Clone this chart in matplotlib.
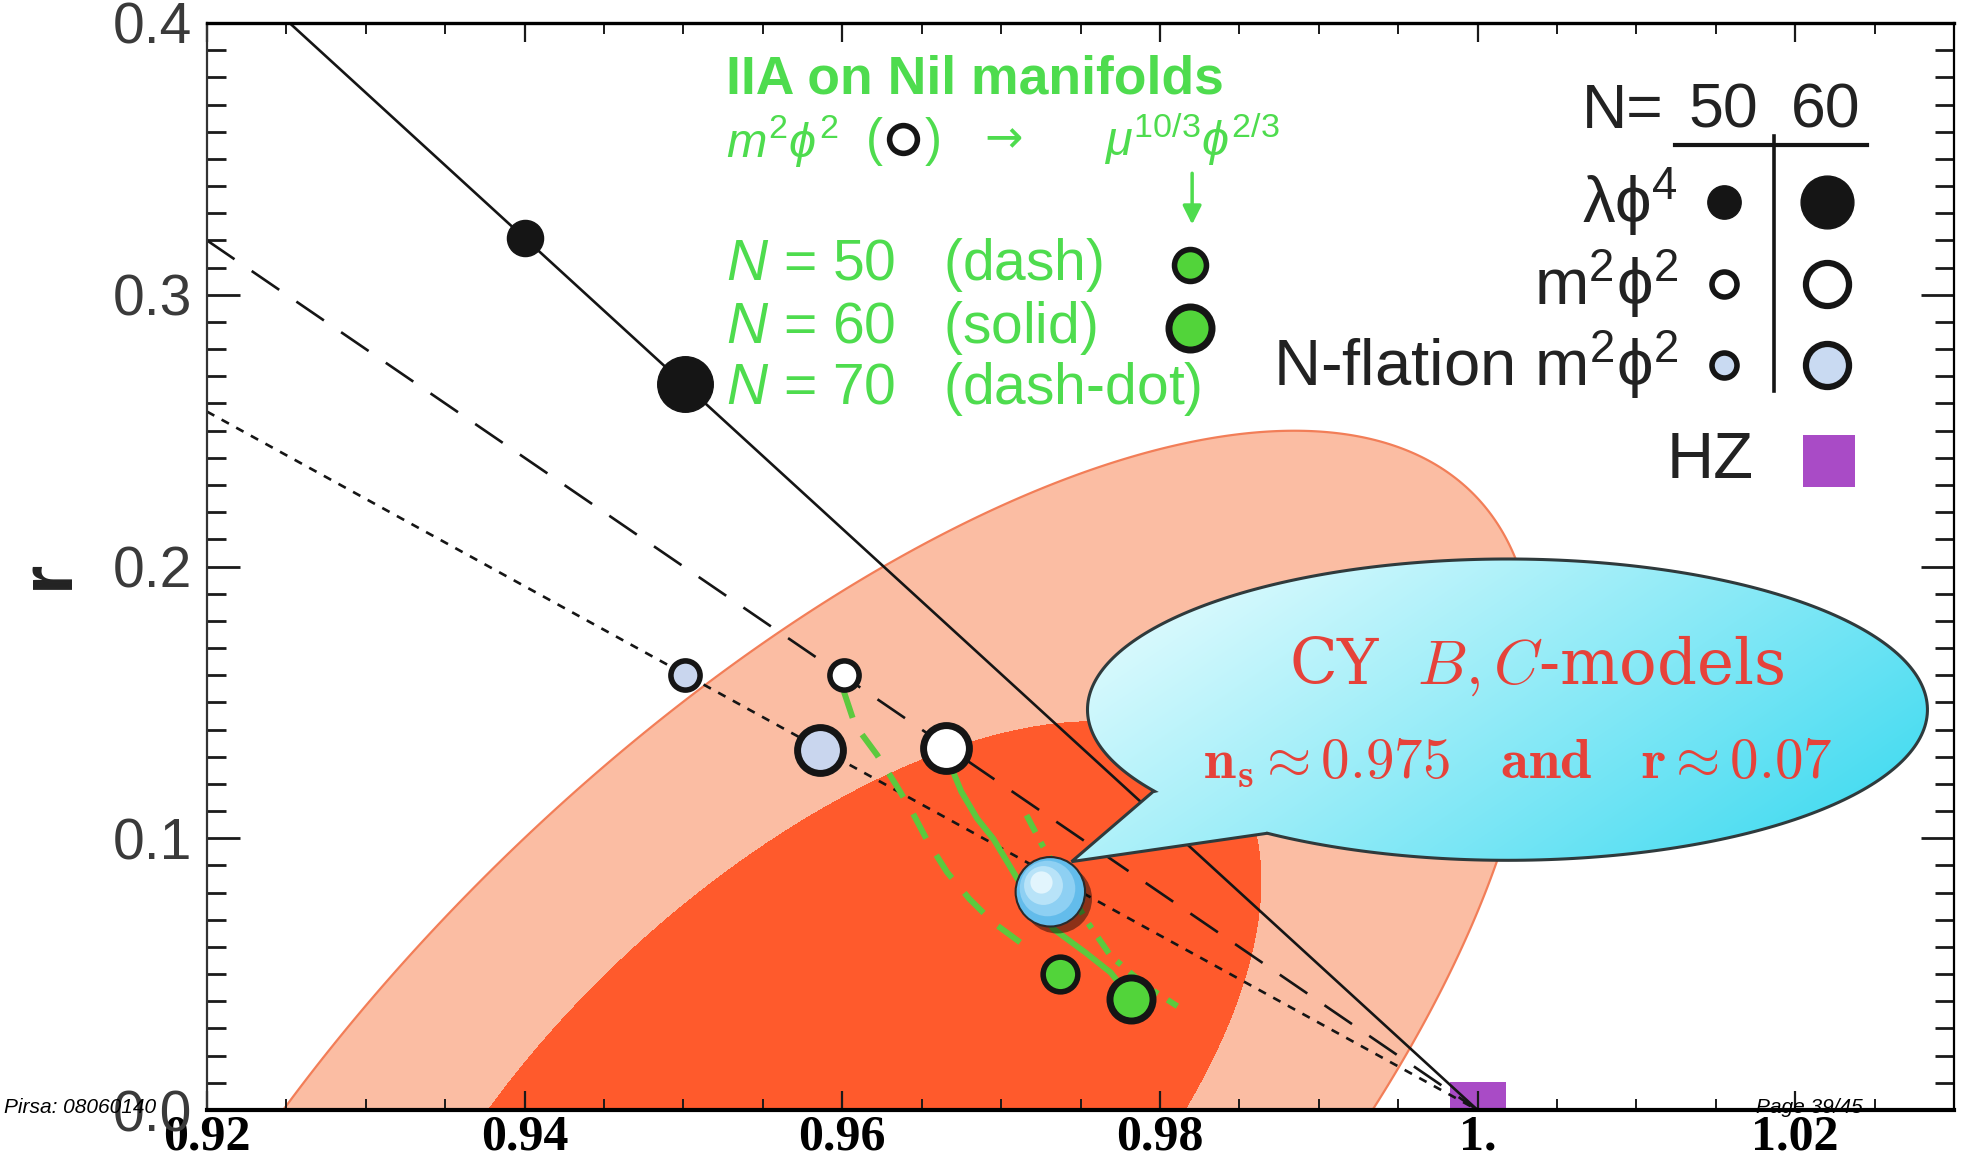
import numpy as np
import matplotlib
matplotlib.use("Agg")
import matplotlib.pyplot as plt
from matplotlib.path import Path
from matplotlib.patches import PathPatch
from matplotlib.ticker import MultipleLocator, FixedLocator, FixedFormatter
import matplotlib.patheffects as pe
import matplotlib.transforms as mtransforms
from matplotlib import font_manager as fm

# ------------------------------------------------------------------ data
xticks = [0.92, 0.94, 0.96, 0.98, 1.00, 1.02]
xtick_labels = ["0.92", "0.94", "0.96", "0.98", "1.", "1.02"]
yticks = [0.0, 0.1, 0.2, 0.3, 0.4]
ytick_labels = ["0.0", "0.1", "0.2", "0.3", "0.4"]

# model lines  (ns, r)
lam_line_ns = [0.9252, 1.0]
lam_line_r = [0.400, 0.0]
m2_line_ns = [0.920, 1.0]
m2_line_r = [0.320, 0.0]
nfl_line_ns = [0.920, 1.0]
nfl_line_r = [0.257, 0.0]

# model points N=50, N=60
lam_ns = [0.9400, 0.9501]
lam_r = [0.321, 0.267]
m2_ns = [0.9601, 0.9665]
m2_r = [0.160, 0.1333]
nfl_ns = [0.9501, 0.9586]
nfl_r = [0.160, 0.1325]
nil_ns = [0.9737, 0.9782]
nil_r = [0.050, 0.041]
cy_ns = [0.9731]
cy_r = [0.0803]
hz_ns = [1.0]
hz_r = [0.0]

# IIA on Nil manifolds tracks
nil50_ns = [0.9601, 0.9608, 0.9622, 0.9634, 0.9644, 0.9654, 0.9666, 0.9680, 0.9695, 0.9712]
nil50_r = [0.154, 0.1417, 0.1306, 0.1195, 0.1097, 0.0986, 0.0875, 0.0777, 0.0690, 0.0617]
nil60_ns = [0.9665, 0.9668, 0.9675, 0.9685, 0.9695, 0.9704, 0.9714, 0.9733, 0.9753, 0.9769, 0.9782]
nil60_r = [0.1333, 0.127, 0.1171, 0.1072, 0.0999, 0.0912, 0.0814, 0.0666, 0.0580, 0.0506, 0.041]
nil70_ns = [0.9716, 0.9726, 0.9740, 0.9753, 0.9769, 0.9791, 0.9811]
nil70_r = [0.1085, 0.0974, 0.0840, 0.0703, 0.0567, 0.0457, 0.0382]

# confidence contours (boundary points)
outer_ns = [0.92448, 0.92843, 0.93405, 0.93968, 0.94530, 0.95093, 0.95601, 0.96377,
            0.96940, 0.97503, 0.98066, 0.98628, 0.99191, 0.99614, 0.99979, 1.00176,
            1.00202, 0.99844, 0.99634, 0.99256]
outer_r = [0.0, 0.0321, 0.0629, 0.0937, 0.1245, 0.1552, 0.1738, 0.2058,
           0.2218, 0.2353, 0.2464, 0.2507, 0.2476, 0.2390, 0.2255, 0.2095,
           0.0912, 0.0481, 0.0296, 0.0]
inner_ns = [0.93856, 0.94025, 0.94530, 0.95093, 0.95656, 0.96219, 0.96899, 0.97575,
            0.98604, 0.98584, 0.98479, 0.98171]
inner_r = [0.0, 0.0259, 0.0567, 0.0777, 0.0998, 0.1207, 0.1368, 0.1448,
           0.0974, 0.0666, 0.0358, 0.0]

# ------------------------------------------------------------------ fonts
names = {f.name for f in fm.fontManager.ttflist}
SANS = "Liberation Sans" if "Liberation Sans" in names else "DejaVu Sans"
NARROW = "Liberation Sans Narrow" if "Liberation Sans Narrow" in names else SANS
SERIF = "Liberation Serif" if "Liberation Serif" in names else "DejaVu Serif"
plt.rcParams["font.family"] = [SANS, "DejaVu Sans"]
plt.rcParams["mathtext.fontset"] = "custom"
plt.rcParams["mathtext.rm"] = SANS
plt.rcParams["mathtext.it"] = SANS + ":italic"
plt.rcParams["mathtext.bf"] = SANS + ":bold"
plt.rcParams["mathtext.fallback"] = "stixsans"
plt.rcParams["lines.scale_dashes"] = False

GREEN_TXT = "#4EDC4E"
GREEN_LN = "#5CC93E"
GREEN_DOT = "#52D43A"
RED_TXT = "#E6423A"

fig = plt.figure(figsize=(19.78, 11.59), dpi=100)
ax = fig.add_axes([207 / 1978, 1 - 1110 / 1159, (1954 - 207) / 1978, (1110 - 23) / 1159])


def conic_field(ns_pts, r_pts, NS, R):
    """Ellipse through the edge points (Sampson-weighted conic fit), evaluated on a grid."""
    u = (np.asarray(ns_pts) - 0.96) / 0.02
    v = (np.asarray(r_pts) - 0.12) / 0.1
    A = np.column_stack([u * u, u * v, v * v, u, v, np.ones_like(u)])
    w = np.ones_like(u)
    for _ in range(25):
        _, _, vt = np.linalg.svd(A * w[:, None])
        c = vt[-1]
        gu = 2 * c[0] * u + c[1] * v + c[3]
        gv = c[1] * u + 2 * c[2] * v + c[4]
        w = 1.0 / np.maximum(np.hypot(gu, gv), 1e-9)
    U = (NS - 0.96) / 0.02
    V = (R - 0.12) / 0.1
    Q = c[0] * U * U + c[1] * U * V + c[2] * V * V + c[3] * U + c[4] * V + c[5]
    cu, cv = u.mean(), v.mean()
    qc = c[0] * cu * cu + c[1] * cu * cv + c[2] * cv * cv + c[3] * cu + c[4] * cv + c[5]
    return -Q if qc > 0 else Q


gns = np.linspace(0.905, 1.04, 1000)
gr = np.linspace(-0.12, 0.42, 1000)
NS, R = np.meshgrid(gns, gr)
Qo = conic_field(outer_ns, outer_r, NS, R)
Qi = conic_field(inner_ns, inner_r, NS, R)
ax.contourf(NS, R, Qo, levels=[Qo.min() - 1, 0], colors=["#FBBDA3"], zorder=1)
ax.contour(NS, R, Qo, levels=[0], colors=["#F27E58"], linewidths=1.6, zorder=1.1)
ax.contourf(NS, R, Qi, levels=[Qi.min() - 1, 0], colors=["#FF5A2C"], zorder=1.2)

# HZ
ax.plot(hz_ns, hz_r, "s", ms=40, color="#A94BC6", mew=0, zorder=1.5)

# model lines
ax.plot(lam_line_ns, lam_line_r, "-", color="#151515", lw=1.9, zorder=2)
ax.plot(m2_line_ns, m2_line_r, color="#151515", lw=1.9, dashes=(24, 15), zorder=2)
ax.plot(nfl_line_ns, nfl_line_r, color="#151515", lw=1.9, dashes=(6, 6), zorder=2)

# Nil tracks
ax.plot(nil50_ns, nil50_r, color=GREEN_LN, lw=4.3, dashes=(20, 14), zorder=3, solid_capstyle="butt")
ax.plot(nil60_ns, nil60_r, color=GREEN_LN, lw=4.3, zorder=3)
ax.plot(nil70_ns, nil70_r, color=GREEN_LN, lw=4.3, dashes=(14, 8, 4, 8), zorder=3)

# model points
ax.plot(lam_ns[0], lam_r[0], "o", ms=26, mfc="#151515", mec="#151515", mew=1, zorder=4)
ax.plot(lam_ns[1], lam_r[1], "o", ms=40, mfc="#151515", mec="#151515", mew=1, zorder=4)
ax.plot(m2_ns[0], m2_r[0], "o", ms=21, mfc="white", mec="#151515", mew=4, zorder=4)
ax.plot(m2_ns[1], m2_r[1], "o", ms=33, mfc="white", mec="#151515", mew=5, zorder=4)
ax.plot(nfl_ns[0], nfl_r[0], "o", ms=21, mfc="#C9D6EE", mec="#151515", mew=4, zorder=4)
ax.plot(nfl_ns[1], nfl_r[1], "o", ms=33, mfc="#C9D6EE", mec="#151515", mew=5, zorder=4)
ax.plot(nil_ns[0], nil_r[0], "o", ms=25, mfc=GREEN_DOT, mec="#151515", mew=4, zorder=4)
ax.plot(nil_ns[1], nil_r[1], "o", ms=31, mfc=GREEN_DOT, mec="#151515", mew=5, zorder=4)

# ------------------------------------------------------------------ speech bubble
bc = (0.7444, 0.3683)
ba, bb = 0.2404, 0.1386
notch = (0.5415, 0.2928)
tip = (0.4949, 0.2285)
base = (0.6065, 0.2545)


def ang(p):
    return np.arctan2((p[1] - bc[1]) / bb, (p[0] - bc[0]) / ba)


t = np.linspace(ang(base), ang(notch) + 2 * np.pi, 300)
verts = list(zip(bc[0] + ba * np.cos(t), bc[1] + bb * np.sin(t)))
verts += [notch, tip, base, base]
codes = [Path.MOVETO] + [Path.LINETO] * (len(verts) - 2) + [Path.CLOSEPOLY]
bubble = PathPatch(Path(verts, codes), transform=ax.transAxes, facecolor="none",
                   edgecolor="#2f3a3c", lw=2.2, zorder=5.5)
ax.add_patch(bubble)
gx, gy = np.meshgrid(np.linspace(0, 1, 400), np.linspace(0, 1, 250))
tt = np.clip(0.72 * gx + 0.38 * (1 - gy) - 0.05, 0, 1)[..., None]
c0 = np.array([0.93, 0.995, 1.0])
c1 = np.array([0.22, 0.85, 0.94])
img = c0 + tt * (c1 - c0)
im = ax.imshow(img, origin="lower", extent=[0.48, 0.99, 0.22, 0.51], transform=ax.transAxes,
               aspect="auto", zorder=5, interpolation="bilinear")
im.set_clip_path(bubble)

ax.text(0.761, 0.4084, r"CY  $B,C$-models", transform=ax.transAxes, ha="center", va="center",
        fontsize=45, color=RED_TXT, family="DejaVu Serif", math_fontfamily="cm", zorder=6)
ax.text(0.7502, 0.319, r"$\mathbf{n_s \approx 0.975 \quad and \quad r \approx 0.07}$",
        transform=ax.transAxes, ha="center", va="center", fontsize=41, color=RED_TXT,
        math_fontfamily="cm", zorder=6)

# CY point (ball, shaded with layered discs)
ax.plot(cy_ns, cy_r, "o", ms=50, mfc="#63BCEB", mec="#2a2a2a", mew=1.5, zorder=7,
        path_effects=[pe.SimplePatchShadow(offset=(5, -5), shadow_rgbFace="k", alpha=0.45), pe.Normal()])
for dx, ms_, col in [(-2.5, 40, "#8ED0F3"), (-5, 28, "#B8E3F8"), (-7, 16, "#E2F5FD")]:
    tr = mtransforms.offset_copy(ax.transData, fig=fig, x=dx, y=-dx, units="points")
    ax.plot(cy_ns, cy_r, "o", ms=ms_, mfc=col, mec="none", transform=tr, zorder=7.1)

# ------------------------------------------------------------------ axes styling
ax.set_xlim(0.92, 1.030)
ax.set_ylim(0.0, 0.4)
ax.xaxis.set_major_locator(FixedLocator(xticks))
ax.xaxis.set_major_formatter(FixedFormatter(xtick_labels))
ax.xaxis.set_minor_locator(MultipleLocator(0.005))
ax.yaxis.set_major_locator(FixedLocator(yticks))
ax.yaxis.set_major_formatter(FixedFormatter(ytick_labels))
ax.yaxis.set_minor_locator(MultipleLocator(0.01))
ax.tick_params(which="both", direction="in", top=True, right=True, color="#1a1a1a")
ax.tick_params(axis="x", which="major", length=14, width=1.6, pad=3)
ax.tick_params(axis="x", which="minor", length=8, width=1.4)
ax.tick_params(axis="y", which="major", length=24, width=2.0, pad=11)
ax.tick_params(axis="y", which="minor", length=14, width=2.0)
for lab in ax.get_xticklabels():
    lab.set_fontfamily(SERIF)
    lab.set_fontweight("bold")
    lab.set_fontsize(36)
for lab in ax.get_yticklabels():
    lab.set_fontfamily(SANS)
    lab.set_fontsize(41)
    lab.set_color("#3a3a3a")
ax.spines["left"].set_linewidth(1.6)
ax.spines["left"].set_color("#333333")
ax.spines["right"].set_linewidth(1.6)
ax.spines["bottom"].set_linewidth(3.0)
ax.spines["top"].set_linewidth(2.4)
for s in ax.spines.values():
    s.set_zorder(8)

fig.text(0.0243, 0.5047, "r", rotation=90, fontsize=54, fontweight="bold", ha="center", va="center",
         color="#222222")

# ------------------------------------------------------------------ green annotation block
T = ax.transAxes
ax.text(0.2968, 0.9478, "IIA on Nil manifolds", transform=T, fontsize=38.5, fontweight="bold",
        color=GREEN_TXT, va="center", ha="left")
ax.text(0.2968, 0.891, r"$m^2\phi^2$", transform=T, fontsize=35, color=GREEN_TXT, va="center", ha="left")
ax.text(0.3769, 0.891, "(", transform=T, fontsize=37, color=GREEN_TXT, va="center", ha="left")
ax.plot([0.3986], [0.893], "o", transform=T, ms=20, mfc="white", mec="#151515", mew=4, clip_on=False, zorder=9)
ax.text(0.4108, 0.891, ")", transform=T, fontsize=37, color=GREEN_TXT, va="center", ha="left")
ax.text(0.4448, 0.893, "\u2192", transform=T, fontsize=33, color=GREEN_TXT, va="center", ha="left",
        family=["DejaVu Sans"])
ax.text(0.5134, 0.893, r"$\mu^{10/3}\phi^{2/3}$", transform=T, fontsize=35, color=GREEN_TXT,
        va="center", ha="left")
ax.annotate("", xy=(0.5639, 0.8121), xytext=(0.5639, 0.8643), xycoords=T, textcoords=T,
            arrowprops=dict(arrowstyle="-|>", color=GREEN_TXT, lw=2.5, mutation_scale=28))
for y, lbl in [(0.7773, "50   (dash)"), (0.7193, "60   (solid)"), (0.6636, "70   (dash-dot)")]:
    ax.text(0.2968, y, r"$N$ = " + lbl, transform=T, fontsize=41, color=GREEN_TXT, va="center", ha="left")
ax.plot([0.5625], [0.7773], "o", transform=T, ms=23, mfc=GREEN_DOT, mec="#151515", mew=4, clip_on=False, zorder=9)
ax.plot([0.5625], [0.7193], "o", transform=T, ms=31, mfc=GREEN_DOT, mec="#151515", mew=5, clip_on=False, zorder=9)

# ------------------------------------------------------------------ black legend block
ax.text(0.834, 0.9188, "N=", transform=T, fontsize=45, va="center", ha="right", color="#222222")
ax.text(0.8679, 0.9188, "50", transform=T, fontsize=45, va="center", ha="center", color="#222222")
ax.text(0.9267, 0.9188, "60", transform=T, fontsize=45, va="center", ha="center", color="#222222")
ax.plot([0.8404, 0.9502], [0.8875, 0.8875], transform=T, color="#151515", lw=3, clip_on=False, zorder=9)
ax.plot([0.8968, 0.8968], [0.8956, 0.6613], transform=T, color="#151515", lw=2.6, clip_on=False, zorder=9)
ax.text(0.8419, 0.8353, r"$\mathrm{\lambda\phi^4}$", transform=T, fontsize=47, va="center", ha="right", color="#222222")
ax.text(0.8419, 0.7599, r"$\mathrm{m^2\phi^2}$", transform=T, fontsize=47, va="center", ha="right", color="#222222")
ax.text(0.8419, 0.6856, r"N-flation $\mathrm{m^2\phi^2}$", transform=T, fontsize=47, va="center", ha="right",
        color="#222222")
ax.text(0.8852, 0.5974, "HZ", transform=T, fontsize=47, va="center", ha="right", color="#222222")
ax.plot([0.8686], [0.8353], "o", transform=T, ms=24, color="#151515", clip_on=False, zorder=9)
ax.plot([0.9271], [0.8353], "o", transform=T, ms=38, color="#151515", clip_on=False, zorder=9)
ax.plot([0.8686], [0.7599], "o", transform=T, ms=18, mfc="white", mec="#151515", mew=4, clip_on=False, zorder=9)
ax.plot([0.9271], [0.7599], "o", transform=T, ms=31, mfc="white", mec="#151515", mew=4.5, clip_on=False, zorder=9)
ax.plot([0.8686], [0.6856], "o", transform=T, ms=18, mfc="#C9DAF2", mec="#151515", mew=4, clip_on=False, zorder=9)
ax.plot([0.9271], [0.6856], "o", transform=T, ms=31, mfc="#C9DAF2", mec="#151515", mew=4.5, clip_on=False, zorder=9)
ax.plot([0.9285], [0.5974], "s", transform=T, ms=38, color="#A94BC6", mew=0, clip_on=False, zorder=9)

# ------------------------------------------------------------------ footer
fsz = 19 if NARROW != SANS else 15
fig.text(0.0019, 0.0443, "Pirsa: 08060140", family=NARROW, style="italic", fontsize=fsz, va="center",
         ha="left", zorder=20)
fig.text(0.8878, 0.0443, "Page 39/45", family=NARROW, style="italic", fontsize=fsz, va="center",
         ha="left", zorder=20)

fig.savefig("out.png", dpi=100)
